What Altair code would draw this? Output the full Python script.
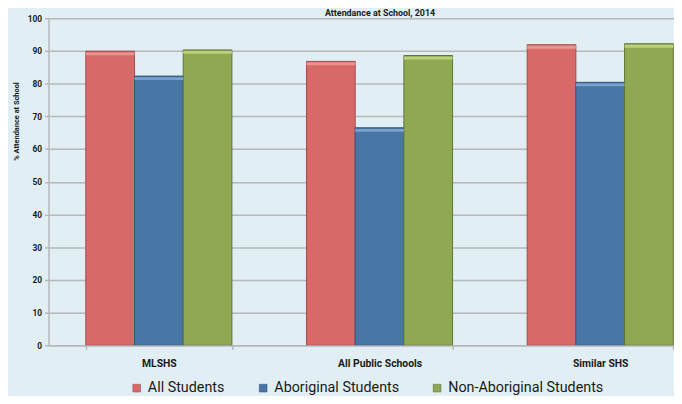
import altair as alt
import pandas as pd

categories = ["MLSHS", "All Public Schools", "Similar SHS"]
groups = ["All Students", "Aboriginal Students", "Non-Aboriginal Students"]
all_students = [89.9, 86.8, 91.9]
aboriginal = [82.3, 66.5, 80.4]
non_aboriginal = [90.3, 88.6, 92.2]
y_ticks = [0, 10, 20, 30, 40, 50, 60, 70, 80, 90, 100]

fills = ["#D76A68", "#4877A7", "#8FA953"]
strokes = ["#A24B4A", "#30557C", "#5F7333"]
highlights = ["#EC9391", "#7BA1CC", "#BBD27D"]

rows = []
for i, c in enumerate(categories):
    for g, vals in zip(groups, [all_students, aboriginal, non_aboriginal]):
        rows.append({"School": c, "Group": g, "Value": vals[i]})
df = pd.DataFrame(rows)

BG = "#E1EFF5"
GRID = "#B4B8BB"
FONT = "Roboto"

x_scale = alt.Scale(range=[0, 670], paddingInner=0.338, paddingOuter=0.169)
x_axis = alt.Axis(
    title=None,
    labelAngle=0,
    labelFont=FONT,
    labelFontWeight="bold",
    labelFontSize=10.5,
    labelColor="#1A1A1A",
    labelPadding=9,
    tickBand="extent",
    tickSize=4,
    tickColor=GRID,
    tickWidth=1.5,
    domainColor=GRID,
    domainWidth=1.5,
    grid=False,
)

y_scale = alt.Scale(domain=[0, 100], nice=False)
y_axis = alt.Axis(
    title="% Attendance at School",
    values=y_ticks,
    titleFont=FONT,
    titleFontWeight="bold",
    titleFontSize=7.5,
    titleColor="#1A1A1A",
    titleAngle=270,
    titleX=-32,
    titleY=104,
    titleAlign="center",
    titleBaseline="middle",
    labelFont=FONT,
    labelFontWeight="bold",
    labelFontSize=8.5,
    labelColor="#1A1A1A",
    labelPadding=3,
    tickSize=4,
    tickColor=GRID,
    tickWidth=1.5,
    domainColor=GRID,
    domainWidth=1.5,
    grid=True,
    gridColor=GRID,
    gridWidth=1.5,
)

xoff = alt.XOffset("Group:N", sort=groups, scale=alt.Scale(paddingInner=0, paddingOuter=0))

bars = alt.Chart(df).mark_bar(clip=True, strokeWidth=1).encode(
    x=alt.X("School:N", sort=categories, scale=x_scale, axis=x_axis),
    xOffset=xoff,
    y=alt.Y("Value:Q", scale=y_scale, axis=y_axis),
    color=alt.Color(
        "Group:N",
        sort=groups,
        scale=alt.Scale(domain=groups, range=fills),
        legend=alt.Legend(
            title=None,
            orient="none",
            direction="horizontal",
            legendX=82,
            legendY=367,
            symbolType="square",
            symbolSize=60,
            symbolStrokeColor="#7A7A7A",
            symbolStrokeWidth=0.6,
            labelFont=FONT,
            labelFontSize=14.5,
            labelColor="#1A1A1A",
            labelOffset=4,
            columnPadding=31,
        ),
    ),
    stroke=alt.Stroke("Group:N", sort=groups, scale=alt.Scale(domain=groups, range=strokes), legend=None),
)

shine = alt.Chart(df).transform_calculate(
    top="datum.Value - 0.35", low="datum.Value - 1.2", HGroup="datum.Group"
).mark_bar(clip=True).encode(
    x=alt.X("School:N", sort=categories, scale=x_scale, axis=x_axis),
    xOffset=xoff,
    y=alt.Y("top:Q", scale=y_scale, axis=y_axis),
    y2="low:Q",
    fill=alt.Fill("HGroup:N", sort=groups, scale=alt.Scale(domain=groups, range=highlights), legend=None),
)

chart = alt.layer(bars, shine).properties(
    width=633,
    height=331,
    background=BG,
    padding={"left": 41, "top": 8, "right": 0, "bottom": 49},
    autosize=alt.AutoSizeParams(type="none"),
    title=alt.TitleParams(
        "Attendance at School, 2014",
        font=FONT,
        fontWeight="bold",
        fontSize=9,
        color="#1A1A1A",
        offset=1,
        baseline="alphabetic",
        dx=19,
        dy=12,
    ),
).configure_view(stroke=None)

chart.save("out.html", embed_options={"renderer": "svg", "actions": False})
